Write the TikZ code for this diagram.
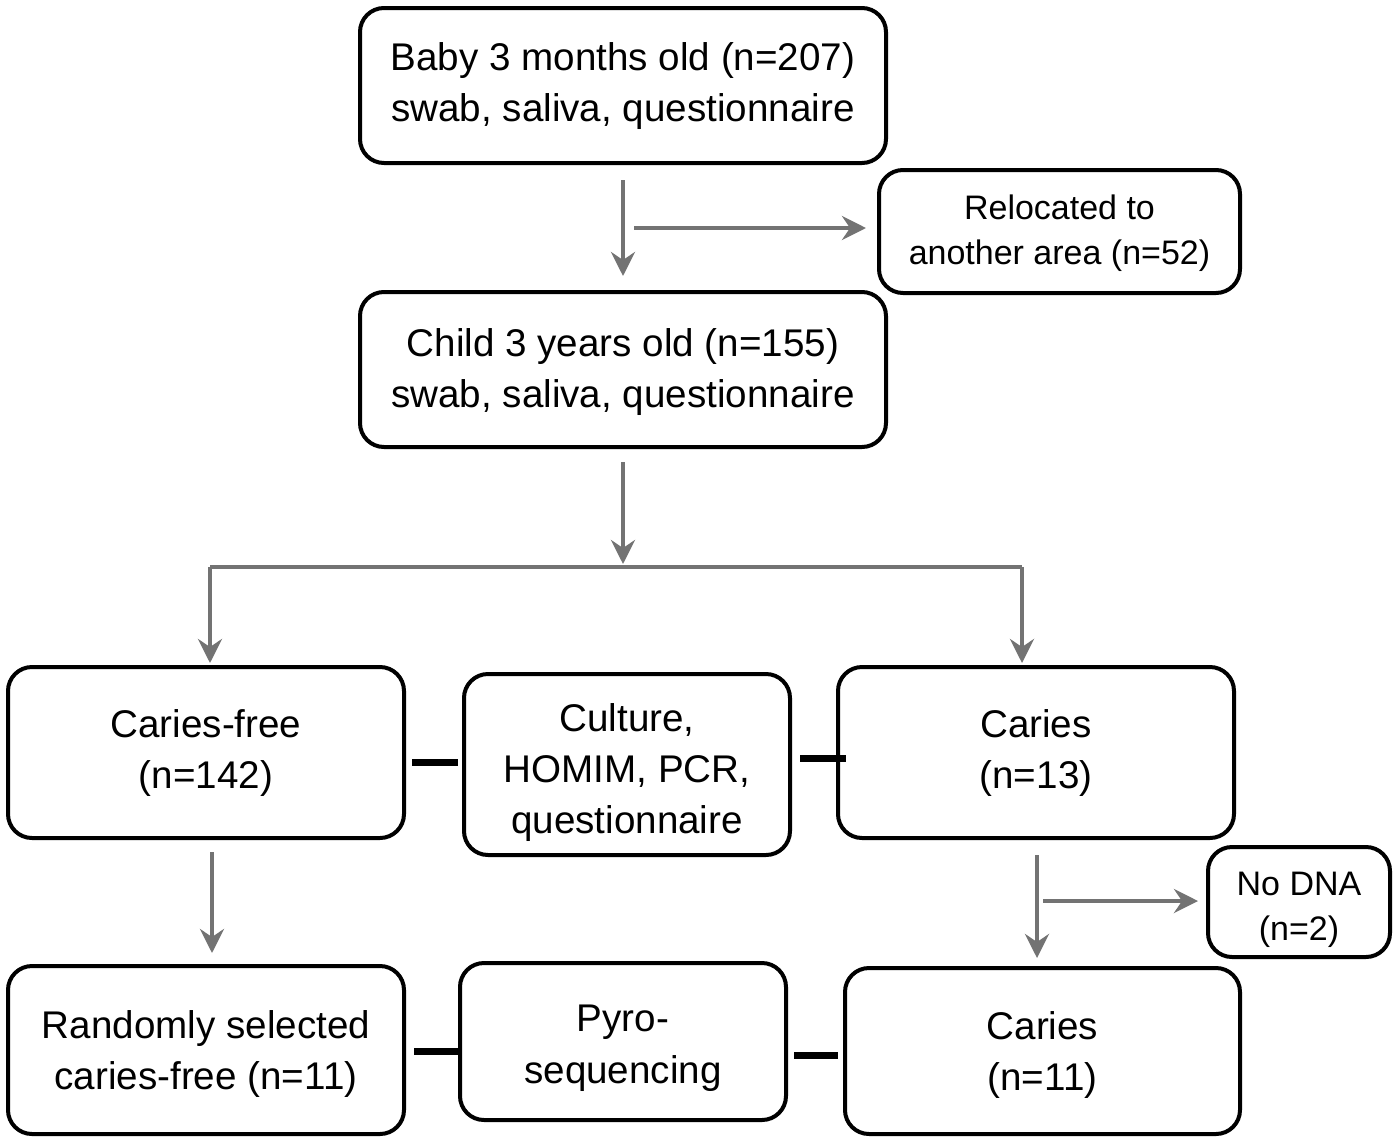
\documentclass[tikz,border=0pt]{standalone}
\usepackage{fontspec}
\setmainfont{Liberation Sans}
\usetikzlibrary{arrows.meta}
\definecolor{arrgray}{HTML}{737373}
\newcommand\dnx[1]{\rule{0pt}{#1}}
\begin{document}
\begin{tikzpicture}[x=0.5pt,y=-0.5pt,
  box/.style={draw=black, line width=2pt, rounded corners=12pt, align=center, inner sep=0pt,
    font=\fontsize{19.3pt}{25.5pt}\selectfont},
  smallbox/.style={box, font=\fontsize{17pt}{22.5pt}\selectfont},
  arr/.style={draw=arrgray, line width=2pt, -{Stealth[length=12pt,width=12pt,inset=4pt]}},
  ln/.style={draw=arrgray, line width=2pt},
  conn/.style={draw=black, line width=3.5pt}]
\useasboundingbox (0,0) rectangle (1393,1136);

\node[box, minimum width=263pt, minimum height=77.5pt] (top) at (623,85.5)
  {\dnx{15pt}Baby 3 months old (n=207)\\swab, saliva, questionnaire};
\node[smallbox, minimum width=180.5pt, minimum height=61.5pt] (reloc) at (1059.5,231.5)
  {\dnx{14.2pt}Relocated to\\another area (n=52)};
\node[box, minimum width=263pt, minimum height=77.5pt] (child) at (623,369.5)
  {\dnx{16pt}Child 3 years old (n=155)\\swab, saliva, questionnaire};
\node[box, minimum width=198pt, minimum height=85.5pt] (cf) at (206,752.5)
  {Caries-free\\(n=142)};
\node[box, minimum width=163pt, minimum height=90.5pt] (cult) at (627,764.5)
  {\dnx{22pt}Culture,\\HOMIM, PCR,\\questionnaire};
\node[box, minimum width=198pt, minimum height=85.5pt] (car) at (1036,752.5)
  {Caries\\(n=13)};
\node[smallbox, minimum width=91pt, minimum height=55pt] (nodna) at (1299,902)
  {\dnx{19.2pt}No DNA\\(n=2)};
\node[box, minimum width=198pt, minimum height=84pt] (rand) at (206,1050)
  {\dnx{18pt}Randomly selected\\caries-free (n=11)};
\node[box, minimum width=163pt, minimum height=78.5pt, font=\fontsize{19.3pt}{26pt}\selectfont] (pyro) at (623,1041.5)
  {\dnx{19.5pt}Pyro-\\sequencing};
\node[box, minimum width=197.5pt, minimum height=83pt] (car11) at (1042.5,1051)
  {\dnx{18.1pt}Caries\\(n=11)};

% top -> child, branch to relocated
\draw[arr, shorten <=7.5pt, shorten >=7pt] (top.south) -- (child.north);
\coordinate (b1) at (634,228);
\draw[arr, shorten >=5.5pt] (b1) -- (b1 -| reloc.west);

% child -> split
\coordinate (sL) at (210,567);
\coordinate (sR) at (1022,567);
\draw[arr, shorten <=6.5pt, shorten >=1.5pt] (child.south) -- (child.south |- sL);
\draw[ln] (sL) -- (sR);
\draw[arr, shorten >=1pt] (sL) -- (sL |- cf.north);
\draw[arr, shorten >=1pt] (sR) -- (sR |- car.north);

% caries-free -> random
\coordinate (c3) at (212,852);
\draw[arr, shorten >=5.5pt] (c3) -- (c3 |- rand.north);

% caries -> caries 11, branch to no DNA
\coordinate (c4) at (1037,855);
\draw[arr, shorten >=4pt] (c4) -- (c4 |- car11.north);
\coordinate (b2) at (1043,901);
\draw[arr, shorten >=4pt] (b2) -- (b2 -| nodna.west);

% black connectors
\coordinate (l1) at (412,762);
\draw[conn, shorten >=2pt] (l1) -- (l1 -| cult.west);
\coordinate (l2) at (800,758);
\draw[conn, shorten >=-5pt] (l2) -- (l2 -| car.west);
\coordinate (l3) at (414,1051);
\draw[conn] (l3) -- (l3 -| pyro.west);
\coordinate (l4) at (794,1055);
\draw[conn, shorten >=2.5pt] (l4) -- (l4 -| car11.west);
\end{tikzpicture}
\end{document}
